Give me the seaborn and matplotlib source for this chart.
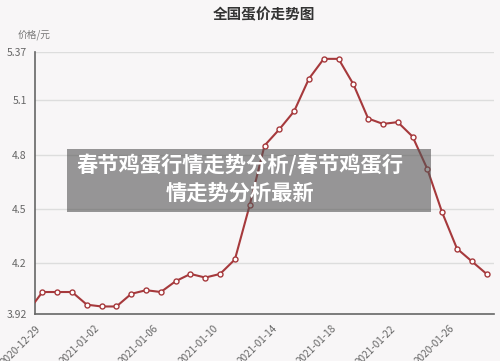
import numpy as np
import pandas as pd
import matplotlib
matplotlib.use("Agg")
import matplotlib.pyplot as plt
import seaborn as sns
from matplotlib.patches import Rectangle

# ---- data ----
prices = [3.93, 4.04, 4.04, 4.04, 3.97, 3.96, 3.96, 4.03, 4.05, 4.04, 4.10,
          4.14, 4.12, 4.14, 4.22, 4.52, 4.85, 4.94, 5.04, 5.22, 5.33, 5.33,
          5.19, 5.00, 4.97, 4.98, 4.90, 4.72, 4.48, 4.28, 4.21, 4.14]
day_pos = list(np.arange(len(prices)) - 0.5)  # day offsets from 2020-12-29
tick_days = [0, 4, 8, 12, 16, 20, 24, 28]
tick_labels = ["2020-12-29", "2021-01-02", "2021-01-06", "2021-01-10",
               "2021-01-14", "2021-01-18", "2021-01-22", "2020-01-26"]
y_ticks = [3.92, 4.2, 4.5, 4.8, 5.1, 5.37]
y_tick_labels = ["3.92", "4.2", "4.5", "4.8", "5.1", "5.37"]
title = "全国蛋价走势图"
y_unit = "价格/元"
overlay_lines = ["春节鸡蛋行情走势分析/春节鸡蛋行", "情走势分析最新"]

df = pd.DataFrame({"day": day_pos, "price": prices})

sns.set_theme(style="white")
plt.rcParams["font.family"] = ["Noto Sans CJK SC", "DejaVu Sans"]

bg = "#f8f6f7"
line_color = "#a6393c"

fig = plt.figure(figsize=(5, 3.61), dpi=100, facecolor=bg)
ax = fig.add_axes([0.07, 0.131, 0.918, 0.726])
ax.set_facecolor(bg)

sns.lineplot(data=df, x="day", y="price", ax=ax, color=line_color, linewidth=1.5,
             marker="o", markersize=3.6, markerfacecolor="white",
             markeredgecolor=line_color, markeredgewidth=1.0, zorder=3)

ax.set_xlim(0, 31)
ax.set_ylim(3.92, 5.37)
ax.set_xticks(tick_days + [31])
ax.set_xticklabels(tick_labels + [""], rotation=45, ha="right",
                   rotation_mode="anchor", fontsize=7.2, color="#666666")
ax.set_yticks(y_ticks)
ax.set_yticklabels(y_tick_labels, fontsize=7.5, color="#666666")
ax.tick_params(axis="both", direction="out", length=4, width=1, color="#666666", pad=2)
ax.tick_params(axis="x", pad=3)
ax.set_xlabel("")
ax.set_ylabel("")

for y in y_ticks[1:]:
    ax.axhline(y, color="#dddddd", linewidth=1, zorder=1)

for s in ["top", "right"]:
    ax.spines[s].set_visible(False)
for s in ["left", "bottom"]:
    ax.spines[s].set_color("#666666")
    ax.spines[s].set_linewidth(1.2)

fig.text(0.528, 0.961, title, ha="center", va="center", fontsize=10.5,
         fontweight="bold", color="#333333")
fig.text(0.036, 0.903, y_unit, ha="left", va="center", fontsize=7, color="#777777")

# overlay banner
fig.add_artist(Rectangle((0.134, 0.4127), 0.728, 0.1745, transform=fig.transFigure,
                         facecolor="#555555", alpha=0.6, edgecolor="none", zorder=5))
fig.text(0.48, 0.543, overlay_lines[0], ha="center", va="center", fontsize=15.3,
         fontweight="bold", color="white", zorder=6)
fig.text(0.48, 0.4654, overlay_lines[1], ha="center", va="center", fontsize=15.3,
         fontweight="bold", color="white", zorder=6)

fig.savefig("out.png", dpi=100, facecolor=bg)
